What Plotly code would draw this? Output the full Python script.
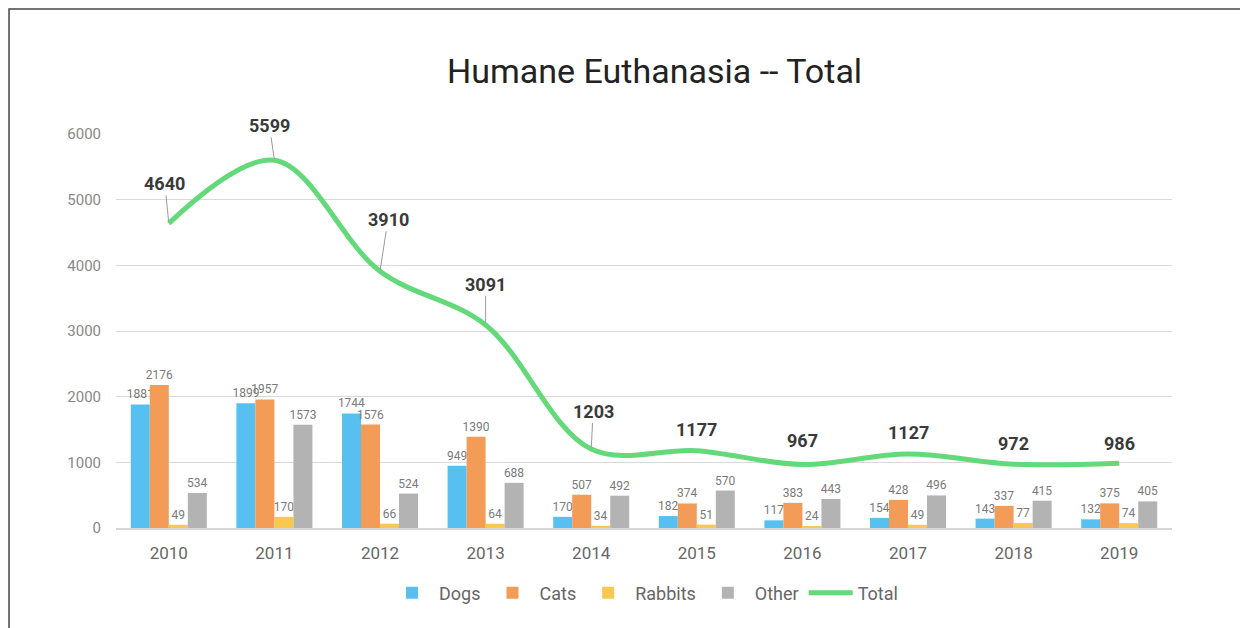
import plotly.graph_objects as go

years = ["2010", "2011", "2012", "2013", "2014", "2015", "2016", "2017", "2018", "2019"]
dogs = [1881, 1899, 1744, 949, 170, 182, 117, 154, 143, 132]
cats = [2176, 1957, 1576, 1390, 507, 374, 383, 428, 337, 375]
rabbits = [49, 170, 66, 64, 34, 51, 24, 49, 77, 74]
other = [534, 1573, 524, 688, 492, 570, 443, 496, 415, 405]
total = [4640, 5599, 3910, 3091, 1203, 1177, 967, 1127, 972, 986]

# label offsets (pixels) for total labels: (dx, dy, leader)
label_offsets = [(-4, -40, True), (-5, -35, True), (8, -52, True), (0, -41, True), (2, -38, True),
                 (0, -21, False), (0, -24, False), (0, -21, False), (0, -21, False), (0, -20, False)]

FONT = "Roboto"
fig = go.Figure()

series = [("Dogs", dogs, "#58C0F0"), ("Cats", cats, "#F29C58"),
          ("Rabbits", rabbits, "#F9C84F"), ("Other", other, "#B3B3B3")]
for name, vals, col in series:
    fig.add_trace(go.Bar(
        name=name, x=years, y=vals, marker=dict(color=col, line=dict(width=0)),
        text=[str(v) for v in vals], textposition="outside", constraintext="none",
        textfont=dict(family=FONT, size=12, color="#7a7a7a"), cliponaxis=False,
    ))

fig.add_trace(go.Scatter(
    name="Total", x=years, y=total, mode="lines",
    line=dict(color="#64D97A", width=5, shape="spline", smoothing=1.0),
))

annotations = []
for i, (v, (dx, dy, lead)) in enumerate(zip(total, label_offsets)):
    if lead:
        annotations.append(dict(x=i, y=v, text=f"<b>{v}</b>", showarrow=True, arrowhead=0,
                                arrowwidth=1, arrowcolor="#9a9a9a", ax=dx, ay=dy, standoff=2,
                                font=dict(family=FONT, size=18, color="#3a3a3a")))
    else:
        annotations.append(dict(x=i, y=v, text=f"<b>{v}</b>", showarrow=False,
                                xshift=dx, yshift=-dy,
                                font=dict(family=FONT, size=18, color="#3a3a3a")))

fig.update_layout(
    width=1248, height=628,
    margin=dict(l=108, r=84, t=126, b=108),
    paper_bgcolor="white", plot_bgcolor="white",
    barmode="group", bargap=0.28, bargroupgap=0,
    title=dict(text="Humane Euthanasia -- Total", x=0.51, xref="paper", y=1 - 63 / 628,
               yanchor="middle", xanchor="center",
               font=dict(family=FONT, size=34, color="#222222")),
    font=dict(family=FONT),
    showlegend=True,
    legend=dict(orientation="h", x=0.5, xanchor="center", y=-0.165, yanchor="middle",
                font=dict(family=FONT, size=18, color="#666666"), itemwidth=44,
                traceorder="normal"),
    annotations=annotations,
    shapes=[dict(type="rect", xref="paper", yref="paper", x0=-0.1013, x1=1.2, y0=-0.4, y1=1.317,
                 line=dict(color="#444444", width=1.5), fillcolor="rgba(0,0,0,0)", layer="below")],
)
fig.update_xaxes(type="category", range=[-0.5, len(years) - 0.5], showgrid=False, showline=True,
                 linecolor="#d6d6d6", linewidth=2, ticklabelstandoff=9,
                 ticks="", tickfont=dict(family=FONT, size=17, color="#666666"))
fig.update_yaxes(range=[0, 6000], dtick=1000, showgrid=True, gridcolor="#d9d9d9", gridwidth=1,
                 zeroline=False, showline=False, ticks="", ticklabelstandoff=14,
                 tickfont=dict(family=FONT, size=15, color="#888888"))

fig.write_html("out.html")
